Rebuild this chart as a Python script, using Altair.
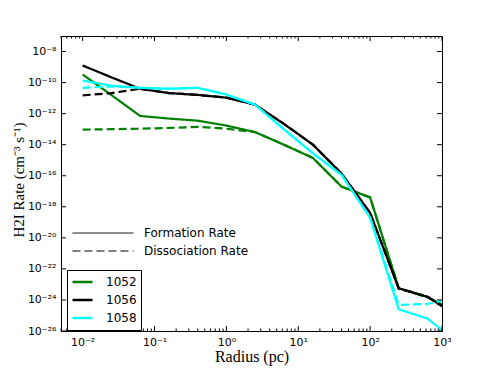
import altair as alt
import pandas as pd

RADIUS = [0.01, 0.025, 0.063, 0.16, 0.4, 1.0, 2.5, 6.3, 16, 40, 100, 250, 630, 1000]

RUNS = ["1052", "1056", "1058"]
RUN_COLORS = ["#008000", "#000000", "#00ffff"]
KINDS = ["Formation Rate", "Dissociation Rate"]

FORM_1052 = [3.3e-10, 1.6e-11, 7.1e-13, 4.8e-13, 3.5e-13, 1.7e-13, 6.5e-14, 1.0e-14, 1.4e-15, 2.0e-17, 4.0e-18, 5.6e-24, 1.5e-24, 5.0e-25]
DISS_1052 = [9.3e-14, 1.0e-13, 1.07e-13, 1.2e-13, 1.4e-13, 1.07e-13, 6.5e-14, 1.0e-14, 1.4e-15, 2.0e-17, 4.0e-18, 5.6e-24, 1.5e-24, 5.0e-25]
FORM_1056 = [1.26e-9, 2.2e-10, 4.0e-11, 2.1e-11, 1.6e-11, 1.07e-11, 3.8e-12, 2.2e-13, 1.0e-14, 1.4e-16, 4.0e-19, 5.6e-24, 1.6e-24, 4.0e-25]
DISS_1056 = [1.5e-11, 2.1e-11, 4.0e-11, 2.1e-11, 1.6e-11, 1.07e-11, 3.8e-12, 2.2e-13, 1.0e-14, 1.4e-16, 4.0e-19, 5.6e-24, 1.6e-24, 4.0e-25]
FORM_1058 = [1.35e-10, 6.3e-11, 4.6e-11, 4.0e-11, 4.6e-11, 1.7e-11, 3.8e-12, 1.0e-13, 2.8e-15, 1.15e-16, 2.0e-19, 2.5e-25, 6.3e-26, 1.15e-26]
DISS_1058 = [4.6e-11, 5.6e-11, 4.6e-11, 4.0e-11, 4.6e-11, 1.7e-11, 3.8e-12, 1.0e-13, 2.8e-15, 1.15e-16, 2.0e-19, 4.8e-25, 5.5e-25, 8.9e-25]

X_TICKS = [0.01, 0.1, 1, 10, 100, 1000]
X_TICK_LABELS = ["10⁻²", "10⁻¹", "10⁰", "10¹", "10²", "10³"]
X_MINOR = [m * 10.0 ** k for k in range(-3, 3) for m in range(2, 10) if 0.005 <= m * 10.0 ** k <= 1000]
Y_TICKS = [1e-26, 1e-24, 1e-22, 1e-20, 1e-18, 1e-16, 1e-14, 1e-12, 1e-10, 1e-8]
Y_TICK_LABELS = ["10⁻²⁶", "10⁻²⁴", "10⁻²²", "10⁻²⁰", "10⁻¹⁸", "10⁻¹⁶", "10⁻¹⁴", "10⁻¹²", "10⁻¹⁰", "10⁻⁸"]

series = {
    ("1052", "Formation Rate"): FORM_1052,
    ("1052", "Dissociation Rate"): DISS_1052,
    ("1056", "Formation Rate"): FORM_1056,
    ("1056", "Dissociation Rate"): DISS_1056,
    ("1058", "Formation Rate"): FORM_1058,
    ("1058", "Dissociation Rate"): DISS_1058,
}
rows = []
for (run, kind), vals in series.items():
    for r, v in zip(RADIUS, vals):
        rows.append({"radius": r, "rate": v, "run": run, "kind": kind})
df = pd.DataFrame(rows)

W, H = 381, 295
xscale = alt.Scale(type="log", domain=[0.005, 1000], nice=False)
yscale = alt.Scale(type="log", domain=[1e-26, 1e-7], nice=False)

x_expr = "[" + ",".join("'%s'" % s for s in X_TICK_LABELS) + "][round(log(datum.value)/LN10)+2]"
y_expr = "[" + ",".join("'%s'" % s for s in Y_TICK_LABELS) + "][round((log(datum.value)/LN10+26)/2)]"

xaxis = alt.Axis(values=X_TICKS, labelExpr=x_expr, ticks=False, domain=False,
                 grid=False, labelPadding=5, titlePadding=1, labelFlush=False)
yaxis = alt.Axis(values=Y_TICKS, labelExpr=y_expr, ticks=False, domain=False,
                 grid=False, labelPadding=5, labelFlush=False,
                 titleX=-35, titleY=H / 2 - 4, titleAngle=270, titleBaseline="bottom",
                 titleAlign="center", titleFontSize=15)
XT = "Radius (pc)"
YT = "H2I Rate (cm⁻³ s⁻¹)"

lines = alt.Chart(df).mark_line(strokeWidth=2.2, clip=True).encode(
    x=alt.X("radius:Q", scale=xscale, title=XT, axis=xaxis),
    y=alt.Y("rate:Q", scale=yscale, title=YT, axis=yaxis),
    color=alt.Color("run:N", scale=alt.Scale(domain=RUNS, range=RUN_COLORS),
                    legend=alt.Legend(title=None, orient="none", legendX=6, legendY=234,
                                      strokeColor="black", fillColor="white", padding=4,
                                      symbolType="stroke", symbolSize=400, symbolStrokeWidth=2.5,
                                      clipHeight=16, labelFontSize=12, labelOffset=12)),
    strokeDash=alt.StrokeDash("kind:N", scale=alt.Scale(domain=KINDS, range=[[1, 0], [8, 4]]),
                              legend=alt.Legend(title=None, orient="none", legendX=11, legendY=189,
                                                padding=0, symbolType="stroke", symbolSize=3721,
                                                symbolStrokeWidth=1, symbolStrokeColor="black",
                                                clipHeight=16, labelFontSize=12, labelOffset=10)),
)

xmaj = pd.DataFrame({"radius": X_TICKS})
xmin = pd.DataFrame({"radius": X_MINOR})
ymaj = pd.DataFrame({"rate": Y_TICKS})


def xticks(data, y0, y1):
    return alt.Chart(data).mark_rule(color="black", strokeWidth=1).encode(
        x=alt.X("radius:Q", scale=xscale, title=XT, axis=xaxis), y=alt.value(y0), y2=alt.value(y1))


def yticks(data, x0, x1):
    return alt.Chart(data).mark_rule(color="black", strokeWidth=1).encode(
        y=alt.Y("rate:Q", scale=yscale, title=YT, axis=yaxis), x=alt.value(x0), x2=alt.value(x1))


chart = alt.layer(
    lines,
    xticks(xmaj, H, H - 5), xticks(xmaj, 0, 5),
    xticks(xmin, H, H - 2.5), xticks(xmin, 0, 2.5),
    yticks(ymaj, 0, 5), yticks(ymaj, W, W - 5),
).properties(
    width=W, height=H,
    autosize=alt.AutoSizeParams(type="none"),
    padding={"left": 53, "top": 28, "right": 41, "bottom": 36},
).configure_view(
    stroke="black", strokeWidth=1
).configure_axis(
    labelFont="DejaVu Sans", labelFontSize=11, labelColor="black",
    titleFont="Liberation Serif", titleFontSize=16, titleFontWeight="normal", titleColor="black",
).configure_legend(
    labelFont="DejaVu Sans", labelColor="black",
)

chart.save("out.html", embed_options={"renderer": "svg", "actions": False})
